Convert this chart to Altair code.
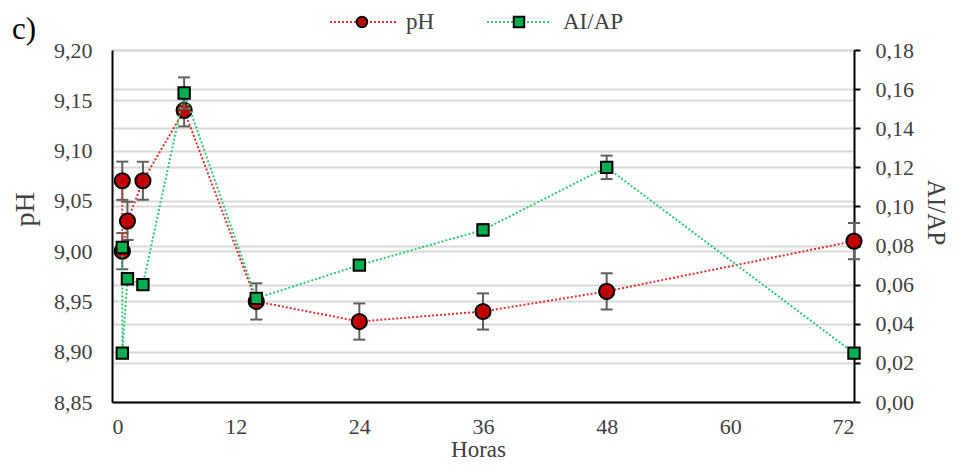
import altair as alt
import pandas as pd

# ---- data ----
hours = [1, 1, 1.5, 3, 7, 14, 24, 36, 48, 72]
ph = [9.07, 9.00, 9.03, 9.07, 9.14, 8.95, 8.93, 8.94, 8.96, 9.01]
ph_err = [0.019, 0.018, 0.019, 0.019, 0.016, 0.018, 0.018, 0.018, 0.018, 0.018]
aiap = [0.079, 0.025, 0.063, 0.060, 0.158, 0.053, 0.070, 0.088, 0.120, 0.025]
aiap_err = [0.0, 0.0, 0.0, 0.0, 0.008, 0.0, 0.0, 0.003, 0.006, 0.0]

x_ticks = [0, 12, 24, 36, 48, 60, 72]
ph_ticks = [8.85, 8.90, 8.95, 9.00, 9.05, 9.10, 9.15, 9.20]
aiap_ticks = [0.00, 0.02, 0.04, 0.06, 0.08, 0.10, 0.12, 0.14, 0.16, 0.18]

df = pd.DataFrame({
    "idx": list(range(len(hours))),
    "hours": hours,
    "ph": ph,
    "ph_lo": [v - e for v, e in zip(ph, ph_err)],
    "ph_hi": [v + e for v, e in zip(ph, ph_err)],
    "aiap": aiap,
    "ai_lo": [v - e for v, e in zip(aiap, aiap_err)],
    "ai_hi": [v + e for v, e in zip(aiap, aiap_err)],
})
df_ai_err = df[[e > 0 for e in aiap_err]]

FONT = "Liberation Serif"
TXT = "#404040"
GRID = "#d9d9d9"
ERR = "#5f5f5f"
RED = "#c00000"
RED_LINE = "#e0302c"
GREEN = "#00b050"
GREEN_LINE = "#2fc878"

comma = "replace(format(datum.value, '.2f'), '.', ',')"

x_enc = alt.X(
    "hours:Q",
    scale=alt.Scale(domain=[0, 72], nice=False, zero=False),
    axis=alt.Axis(values=x_ticks, title="Horas", grid=False, ticks=False, tickSize=0,
                  labelPadding=14, domainColor="black", domainWidth=2,
                  labelFontSize=22, titleFontSize=23, titleBaseline="alphabetic",
                  titleX=366, titleY=54,
                  labelColor=TXT, titleColor=TXT, titleFontWeight="normal"),
)

ph_scale = alt.Scale(domain=[8.85, 9.20], nice=False, zero=False)
ph_axis = alt.Axis(values=ph_ticks, labelExpr=comma, title="pH", grid=True, gridColor=GRID,
                   gridWidth=2, ticks=False, tickSize=0, labelPadding=20, domainColor="black",
                   domainWidth=2, labelFontSize=22, titleFontSize=28, titleBaseline="middle",
                   titleX=-87, titleY=159, titleAngle=270,
                   labelColor=TXT, titleColor=TXT, titleFontWeight="normal", orient="left")

ai_scale = alt.Scale(domain=[0, 0.18], nice=False, zero=False)
ai_axis = alt.Axis(values=aiap_ticks, labelExpr=comma, title="AI/AP", grid=True, gridColor=GRID,
                   gridWidth=2, ticks=True, tickSize=6, tickColor="black", tickWidth=2,
                   labelPadding=15, domainColor="black", domainWidth=2, labelFontSize=22,
                   titleFontSize=25, titleBaseline="middle", titleX=81, titleY=162, titleAngle=90,
                   labelColor=TXT, titleColor=TXT,
                   titleFontWeight="normal", orient="right")


def yph(field):
    return alt.Y(f"{field}:Q", scale=ph_scale, axis=ph_axis)


def yai(field):
    return alt.Y(f"{field}:Q", scale=ai_scale, axis=ai_axis)


base = alt.Chart(df).encode(x=x_enc)

ph_layer = alt.layer(
    base.mark_rule(color=ERR, strokeWidth=2).encode(y=yph("ph_lo"), y2="ph_hi:Q"),
    base.mark_tick(color=ERR, orient="horizontal", size=12, thickness=2, opacity=1).encode(y=yph("ph_lo")),
    base.mark_tick(color=ERR, orient="horizontal", size=12, thickness=2, opacity=1).encode(y=yph("ph_hi")),
    base.mark_line(color=RED_LINE, strokeWidth=2, strokeDash=[2, 2]).encode(y=yph("ph"), order="idx:Q"),
    base.mark_circle(color=RED, stroke="black", strokeWidth=2, size=230, opacity=1).encode(y=yph("ph")),
)

ai_base = alt.Chart(df_ai_err).encode(x=x_enc)
ai_layer = alt.layer(
    ai_base.mark_rule(color=ERR, strokeWidth=2).encode(y=yai("ai_lo"), y2="ai_hi:Q"),
    ai_base.mark_tick(color=ERR, orient="horizontal", size=12, thickness=2, opacity=1).encode(y=yai("ai_lo")),
    ai_base.mark_tick(color=ERR, orient="horizontal", size=12, thickness=2, opacity=1).encode(y=yai("ai_hi")),
    base.mark_line(color=GREEN_LINE, strokeWidth=2, strokeDash=[2, 2]).encode(y=yai("aiap"), order="idx:Q"),
    base.mark_square(color=GREEN, stroke="black", strokeWidth=2, size=130, opacity=1).encode(y=yai("aiap")),
)

# ---- custom legend and panel label ----
leg_ph = pd.DataFrame({"label": ["pH"]})
leg_ai = pd.DataFrame({"label": ["AI/AP"]})
panel = pd.DataFrame({"label": ["c)"]})
LY = -28

legend = alt.layer(
    alt.Chart(leg_ph).mark_rule(color=RED_LINE, strokeWidth=2, strokeDash=[2, 2]).encode(
        x=alt.value(218), x2=alt.value(286), y=alt.value(LY)),
    alt.Chart(leg_ph).mark_circle(color=RED, stroke="black", strokeWidth=2, size=110, opacity=1).encode(
        x=alt.value(250), y=alt.value(LY)),
    alt.Chart(leg_ph).mark_text(align="left", baseline="middle", fontSize=23, font=FONT, color=TXT).encode(
        x=alt.value(294), y=alt.value(LY), text="label:N"),
    alt.Chart(leg_ai).mark_rule(color=GREEN_LINE, strokeWidth=2, strokeDash=[2, 2]).encode(
        x=alt.value(375), x2=alt.value(439), y=alt.value(LY)),
    alt.Chart(leg_ai).mark_square(color=GREEN, stroke="black", strokeWidth=2, size=110, opacity=1).encode(
        x=alt.value(407), y=alt.value(LY)),
    alt.Chart(leg_ai).mark_text(align="left", baseline="middle", fontSize=23, font=FONT, color=TXT).encode(
        x=alt.value(451), y=alt.value(LY), text="label:N"),
    alt.Chart(panel).mark_text(align="center", baseline="middle", fontSize=31, font=FONT, color="black").encode(
        x=alt.value(-88), y=alt.value(-20), text="label:N"),
)

chart = alt.layer(ph_layer, ai_layer, legend).resolve_scale(y="independent").properties(
    width=742,
    height=352,
    autosize=alt.AutoSizeParams(type="none"),
    padding={"left": 104, "top": 42, "right": 94, "bottom": 58},
).configure_view(stroke=None).configure_axis(labelFont=FONT, titleFont=FONT)

chart.save("out.html", embed_options={"renderer": "svg", "actions": False})
